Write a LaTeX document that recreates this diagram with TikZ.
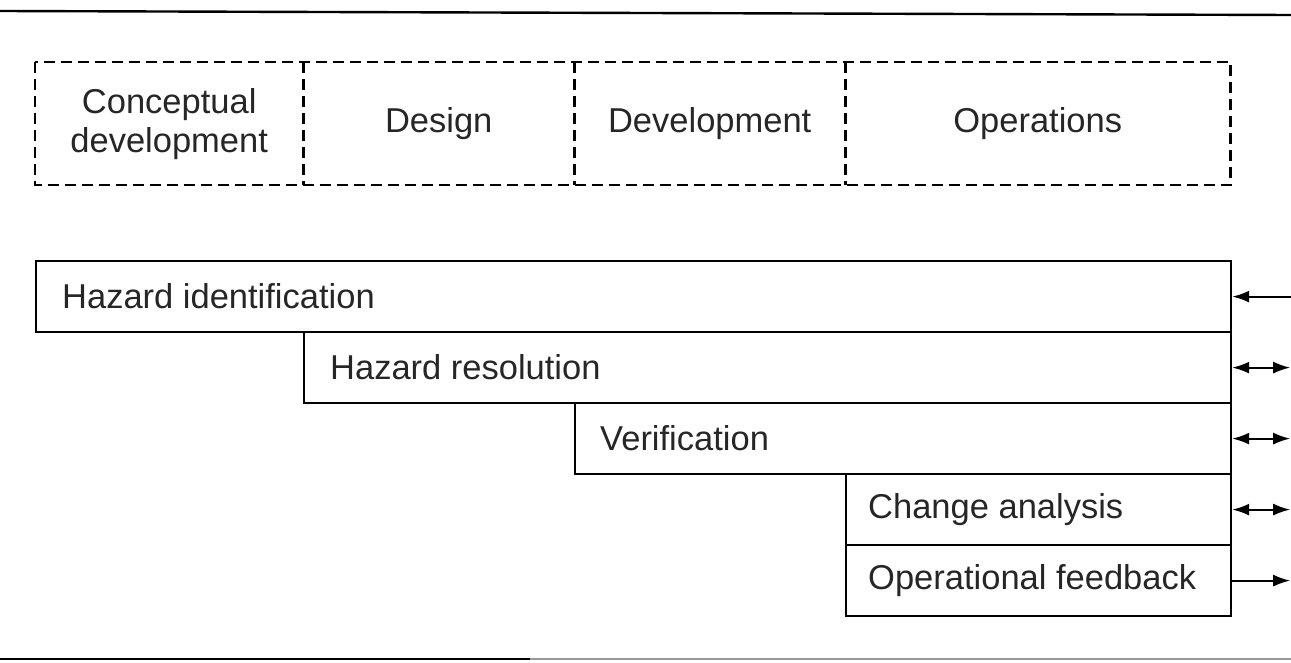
\documentclass[tikz,border=0pt]{standalone}
\usepackage{fontspec}
\setmainfont{Liberation Sans}
\usetikzlibrary{arrows.meta}
\begin{document}
\begin{tikzpicture}[x=1pt,y=-1pt,
  lab/.style={font=\fontsize{34.5}{39}\selectfont, text=black!85},
  phase/.style={lab, align=center, inner sep=0pt, minimum height=123pt, anchor=north west},
  hbox/.style={draw, line width=2.2pt, anchor=north west, minimum height=71pt, inner sep=0pt},
  htext/.style={lab, anchor=west, inner sep=0pt},
  dashline/.style={line width=2.2pt, dash pattern=on 11pt off 6pt},
  rule/.style={line width=2.4pt},
  tip/.tip={Latex[length=17pt,width=12pt]},
  arr/.style={line width=2pt, -tip},
  darr/.style={line width=2pt, tip-tip}]
\useasboundingbox (0,0) rectangle (1291,663);
% rules
\draw[rule] (0,11) -- (1291,15);
\draw[rule] (0,659) -- (530,659);
\draw[rule, black!40] (530,659) -- (1291,659);
% phases
\node[phase, minimum width=268pt] (cd) at (35,62) {Conceptual\\development};
\node[phase, minimum width=271pt] (de) at (303,62) {Design};
\node[phase, minimum width=271pt] (dv) at (574,62) {Development};
\node[phase, minimum width=385pt] (op) at (845,62) {Operations};
\draw[dashline] (cd.north west) rectangle (op.south east);
\draw[dashline] (cd.north east) -- (cd.south east);
\draw[dashline] (de.north east) -- (de.south east);
\draw[dashline] (dv.north east) -- (dv.south east);
% hazard boxes
\node[hbox, minimum width=1195pt] (hi) at (35,260) {};
\node[hbox, minimum width=927pt] (hr) at (303,331) {};
\node[hbox, minimum width=656pt] (ve) at (574,402) {};
\node[hbox, minimum width=385pt] (ca) at (845,473) {};
\node[hbox, minimum width=385pt] (of) at (845,544) {};
\node[htext] (hit) at ([xshift=27pt]hi.west) {Hazard identification};
\node[htext] (hrt) at ([xshift=27pt]hr.west) {Hazard resolution};
\node[htext] (vet) at ([xshift=26pt]ve.west) {Verification};
\node[htext] (cat) at ([xshift=23pt]ca.west) {Change analysis};
\node[htext] (oft) at ([xshift=23pt]of.west) {Operational feedback};
% arrows
\coordinate (r1) at ([xshift=61pt]hi.east);
\coordinate (r2) at ([xshift=58pt]hr.east);
\coordinate (r3) at ([xshift=58pt]ve.east);
\coordinate (r4) at ([xshift=58pt]ca.east);
\coordinate (r5) at ([xshift=58pt]of.east);
\draw[arr] (r1) -- (hi.east);
\draw[darr] (hr.east) -- (r2);
\draw[darr] (ve.east) -- (r3);
\draw[darr] (ca.east) -- (r4);
\draw[arr] (of.east) -- (r5);
\end{tikzpicture}
\end{document}
